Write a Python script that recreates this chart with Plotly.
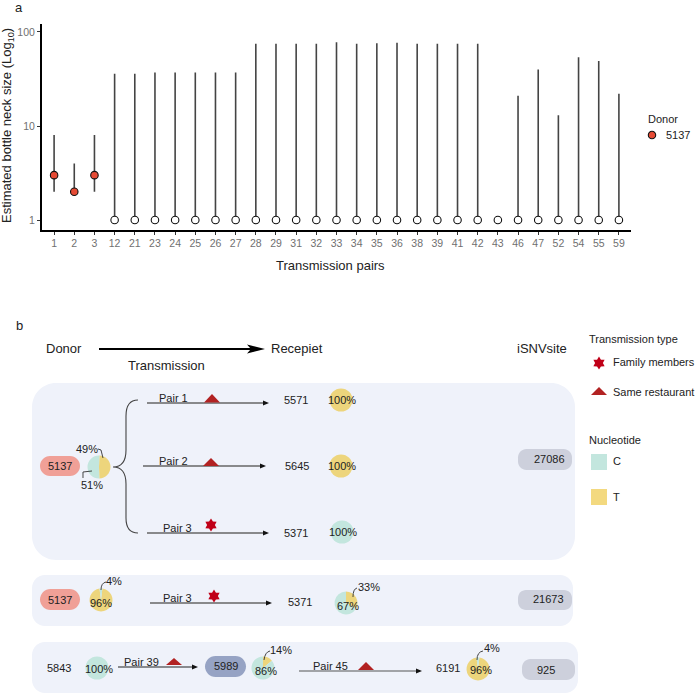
import math
import plotly.graph_objects as go

W, H = 695, 693

# ---------- panel a data ----------
pairs = ["1","2","3","12","21","23","24","25","26","27","28","29","31","32","33",
         "34","35","36","38","39","41","42","43","46","47","52","54","55","59"]
estimate = [3,2,3] + [1]*26
lower = [2,2,2] + [1]*26
upper = [8,4,8,36,36,37,37,37,37,37,75,75,75,75,78,75,76,77,75,75,75,75,1,21,40,13,54,49,22]
donor_name = "5137"
n_donor_points = 3

# ---------- panel b data: C / T shares ----------
pct_labels = ["C", "T"]
pie_51_49 = [51, 49]
pie_0_100 = [0, 100]
pie_100_0 = [100, 0]
pie_4_96 = [4, 96]
pie_67_33 = [67, 33]
pie_86_14 = [86, 14]

C_COL, T_COL = "#c3e6de", "#edd57c"
LEG_T = "#f3d97f"
PANEL = "#eff2fa"
RED_PILL, GREY_PILL, BLUE_PILL = "#f0a097", "#cdd0dc", "#96a3c4"
TRI, STAR = "#b22222", "#c00018"
TXT = "#222222"
RED_DOT = "#e64b35"

def px(x): return x / W
def py(y): return 1 - y / H

shapes, annotations = [], []

def path_str(cmds):
    out = []
    for c in cmds:
        if isinstance(c, str):
            out.append(c)
        else:
            out.append(f"{px(c[0]):.5f},{py(c[1]):.5f}")
    return " ".join(out)

def add_path(cmds, fill=None, line=None, lw=1, layer="above"):
    s = dict(type="path", xref="paper", yref="paper", path=path_str(cmds), layer=layer,
             line=dict(color=line if line else "rgba(0,0,0,0)", width=lw if line else 0))
    if fill:
        s["fillcolor"] = fill
    shapes.append(s)

def round_rect(x0, y0, x1, y1, r, fill, layer="below"):
    k = r * 0.45  # control offset that gives a circular corner
    add_path(["M", (x0+r, y0), "L", (x1-r, y0), "C", (x1-k, y0), (x1, y0+k), (x1, y0+r),
              "L", (x1, y1-r), "C", (x1, y1-k), (x1-k, y1), (x1-r, y1),
              "L", (x0+r, y1), "C", (x0+k, y1), (x0, y1-k), (x0, y1-r),
              "L", (x0, y0+r), "C", (x0, y0+k), (x0+k, y0), (x0+r, y0), "Z"], fill=fill, layer=layer)

def text(x, y, s, size=11, color=TXT, anchor="center", angle=0):
    annotations.append(dict(xref="paper", yref="paper", x=px(x), y=py(y), text=s, showarrow=False,
                            xanchor=anchor, yanchor="middle", textangle=angle,
                            font=dict(size=size, color=color), borderpad=0))

def arrow(x0, x1, y, color="#666666", lw=1.4, hl=6, hw=2.6):
    add_path(["M", (x0, y), "L", (x1-hl+1, y)], line=color, lw=lw)
    add_path(["M", (x1, y), "L", (x1-hl, y-hw), "L", (x1-hl, y+hw), "Z"], fill="#111111")

def triangle(cx, base, top, hw=8):
    add_path(["M", (cx-hw, base), "L", (cx, top), "L", (cx+hw, base), "Z"], fill=TRI)

def star(cx, cy, r=6.5):
    cmds = []
    for i in range(12):
        rad = r if i % 2 == 0 else r * 0.6
        a = math.radians(30 * i)
        cmds += ["M" if i == 0 else "L", (cx + rad*math.sin(a), cy - rad*math.cos(a))]
    add_path(cmds + ["Z"], fill=STAR)

def leader(cmds):
    add_path(cmds, line="#333333", lw=0.9)

traces = []
def pie(cx, cy, vals, rotation=0, r=11.5):
    # clockwise from `rotation`: T slice first, then C
    traces.append(go.Pie(labels=[pct_labels[1], pct_labels[0]], values=[vals[1], vals[0]],
        sort=False, direction="clockwise", rotation=rotation, textinfo="none", hoverinfo="skip",
        marker=dict(colors=[T_COL, C_COL], line=dict(width=0)), showlegend=False,
        domain=dict(x=[px(cx-r), px(cx+r)], y=[py(cy+r), py(cy-r)])))

# ---------- panel a ----------
traces.append(go.Scatter(x=pairs[:n_donor_points], y=estimate[:n_donor_points], mode="markers", showlegend=False,
    marker=dict(size=7.5, color=RED_DOT, line=dict(color="#111111", width=1.1)),
    error_y=dict(type="data", symmetric=False,
                 array=[u-e for u, e in zip(upper[:n_donor_points], estimate[:n_donor_points])],
                 arrayminus=[e-l for e, l in zip(estimate[:n_donor_points], lower[:n_donor_points])],
                 thickness=1.6, width=0, color="#444444"),
    xaxis="x", yaxis="y"))
traces.append(go.Scatter(x=pairs[n_donor_points:], y=estimate[n_donor_points:], mode="markers", showlegend=False,
    marker=dict(size=7.5, color="#ffffff", line=dict(color="#111111", width=1.1)),
    error_y=dict(type="data", symmetric=False,
                 array=[u-e for u, e in zip(upper[n_donor_points:], estimate[n_donor_points:])],
                 arrayminus=[0]*(len(pairs)-n_donor_points),
                 thickness=1.6, width=0, color="#444444"),
    xaxis="x", yaxis="y"))

text(19, 7.5, "a", 13)
text(19, 325, "b", 13)
text(330, 265, "Transmission pairs", 13)
text(7, 126, "Estimated bottle neck size (Log<sub>10</sub>)", 13, angle=-90)

# donor legend
text(647, 119, "Donor", 11, anchor="left")
text(665, 135, donor_name, 11, anchor="left")
shapes.append(dict(type="circle", xref="paper", yref="paper", x0=px(648.3), x1=px(655.7), y0=py(138.7), y1=py(131.3),
                   fillcolor=RED_DOT, line=dict(color="#111111", width=1.1)))

# ---------- panel b header ----------
text(64, 348, "Donor", 13)
text(297, 348, "Recepiet", 13)
text(166, 365, "Transmission", 13)
text(542, 348, "iSNVsite", 13)
add_path(["M", (99, 349), "L", (256, 349)], line="#000000", lw=1.8)
add_path(["M", (265, 349), "L", (247, 344.5), "L", (251, 349), "L", (247, 353.5), "Z"], fill="#000000")

# backgrounds
round_rect(32, 383, 575, 560, 24, PANEL)
round_rect(32, 575, 573, 626, 13, PANEL)
round_rect(32, 642, 578, 693, 13, PANEL)

def pill(x0, y0, x1, y1, s, fill, tx=None, ty=None, rf=1.0):
    round_rect(x0, y0, x1, y1, (y1-y0)/2*rf, fill)
    text(tx if tx else (x0+x1)/2, ty if ty else (y0+y1)/2, s, 11)

# row 1
pill(40, 456, 80, 476, "5137", RED_PILL)
pie(99, 467, pie_51_49, rotation=2)
text(87, 449, "49%", 11)
text(92, 485, "51%", 11)
leader(["M", (98, 449), "L", (101, 450), "L", (103, 458)])
leader(["M", (92, 471), "L", (83, 472), "L", (83, 478)])
add_path(["M", (138, 400), "Q", (126, 400), (126, 416), "L", (126, 450), "Q", (126, 467), (113, 467),
          "Q", (126, 467), (126, 484), "L", (126, 518), "Q", (126, 533), (138, 533)], line="#444444", lw=1.1)

arrow(147, 269, 403); text(174, 398, "Pair 1"); triangle(212, 402.5, 394)
text(296, 400, "5571"); pie(341, 400, pie_0_100); text(342, 400, "100%")
arrow(143, 266, 466); text(174, 461, "Pair 2"); triangle(211, 466, 458)
text(297, 466, "5645"); pie(341, 466, pie_0_100); text(342, 466, "100%")
arrow(147, 269, 533); text(178, 528, "Pair 3"); star(211, 525)
text(296, 533, "5371"); pie(342, 532, pie_100_0); text(343, 532, "100%")
pill(518, 449, 572, 470, "27086", GREY_PILL, tx=549, ty=459, rf=0.8)

# row 2
pill(40, 589, 80, 610, "5137", RED_PILL, ty=600)
pie(101, 600, pie_4_96, rotation=7)
text(101, 603, "96%"); text(114, 581, "4%")
leader(["M", (106, 582), "Q", (101, 583), (101, 590)])
arrow(150, 272, 603); text(178, 598, "Pair 3"); star(214, 596)
text(300, 602, "5371"); pie(346, 603, pie_67_33)
text(348, 606, "67%"); text(369, 587, "33%")
leader(["M", (357, 588), "Q", (353, 589), (353, 597)])
pill(518, 590, 572, 610, "21673", GREY_PILL, tx=548, ty=599, rf=0.8)

# row 3
text(59, 668, "5843"); pie(97, 668, pie_100_0); text(99, 669, "100%")
arrow(118, 198, 667, color="#222222", lw=1.1); text(141, 662, "Pair 39"); triangle(174, 665, 658)
pill(205, 656, 246, 677, "5989", BLUE_PILL, ty=666)
pie(263, 668, pie_86_14); text(266, 671, "86%"); text(281, 650, "14%")
leader(["M", (270, 651), "Q", (265, 652), (264, 660)])
arrow(299, 422, 671, color="#555555", lw=1.2); text(330, 666, "Pair 45"); triangle(366, 670, 662)
text(448, 668, "6191"); pie(478, 669, pie_4_96, rotation=7); text(481, 670, "96%"); text(492, 648, "4%")
leader(["M", (483, 651), "Q", (477, 652), (477, 660)])
pill(522, 659, 575, 680, "925", GREY_PILL, tx=546, ty=670, rf=0.8)

# panel b legends
text(588, 339, "Transmission type", anchor="left")
star(599, 363); text(612, 362, "Family members", anchor="left")
triangle(599, 395, 387); text(612, 392, "Same restaurant", anchor="left")
text(588, 440, "Nucleotide", anchor="left")
shapes.append(dict(type="rect", xref="paper", yref="paper", x0=px(591), x1=px(607), y0=py(470), y1=py(454),
                   fillcolor=C_COL, line=dict(width=0)))
text(612, 461, "C", anchor="left")
shapes.append(dict(type="rect", xref="paper", yref="paper", x0=px(591), x1=px(607), y0=py(505), y1=py(489),
                   fillcolor=LEG_T, line=dict(width=0)))
text(612, 497, "T", anchor="left")

fig = go.Figure(traces)
fig.update_layout(
    width=W, height=H, autosize=False, margin=dict(l=0, r=0, t=0, b=0, autoexpand=False),
    showlegend=False, paper_bgcolor="white", plot_bgcolor="white",
    font=dict(family="Liberation Sans, Arial, sans-serif", color=TXT),
    shapes=shapes, annotations=annotations,
    xaxis=dict(domain=[px(42), px(631)], anchor="y", type="category", categoryorder="array", categoryarray=pairs,
               range=[-0.6, 28.6], showgrid=False, zeroline=False, showline=True, linecolor="#000000", linewidth=2,
               ticks="outside", ticklen=3, tickwidth=1, tickcolor="#333333", tickangle=0, tickmode="array",
               tickvals=pairs, ticktext=pairs, tickfont=dict(size=10.5, color="#707070")),
    yaxis=dict(domain=[py(229.5), py(24)], anchor="x", type="log", range=[-0.101, 2.085],
               showgrid=False, zeroline=False, showline=True, linecolor="#000000", linewidth=2,
               ticks="outside", ticklen=3, tickwidth=1, tickcolor="#333333", tickmode="array",
               tickvals=[1, 10, 100], ticktext=["1", "10", "100"], tickfont=dict(size=10.5, color="#707070")),
)
fig.write_html("out.html", config=dict(displayModeBar=False),
               post_script="document.body.style.margin='0';document.documentElement.style.overflow='hidden';")
